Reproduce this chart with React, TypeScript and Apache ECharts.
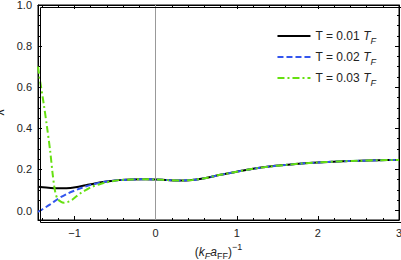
import React, { useEffect, useRef } from "react";
import * as echarts from "echarts";

// Shared tail (all three temperatures coincide here)
const tailX = [-0.45, -0.3, -0.15, 0, 0.15, 0.3, 0.45, 0.6, 0.8, 1.0, 1.2, 1.4, 1.6, 1.8, 2.0, 2.25, 2.5, 2.75, 3.0];
const tailY = [0.148, 0.151, 0.152, 0.151, 0.148, 0.146, 0.149, 0.157, 0.174, 0.189, 0.203, 0.214, 0.222, 0.229, 0.234, 0.239, 0.242, 0.245, 0.246];

// T = 0.01 T_F, low-x part
const t1X = [-1.45, -1.35, -1.25, -1.15, -1.05, -0.95, -0.85, -0.75, -0.65, -0.55];
const t1Y = [0.116, 0.112, 0.109, 0.108, 0.11, 0.116, 0.124, 0.132, 0.139, 0.144];

// T = 0.02 T_F, low-x part
const t2X = [-1.45, -1.4, -1.3, -1.2, -1.1, -1.0, -0.9, -0.8, -0.7, -0.6];
const t2Y = [-0.006, 0.005, 0.03, 0.058, 0.08, 0.097, 0.112, 0.125, 0.134, 0.141];

// T = 0.03 T_F, low-x part
const t3X = [-1.45, -1.42, -1.38, -1.34, -1.3, -1.27, -1.24, -1.21, -1.17, -1.13, -1.08, -1.03, -0.98, -0.92, -0.85, -0.78, -0.7, -0.62, -0.55];
const t3Y = [0.7, 0.62, 0.52, 0.41, 0.29, 0.18, 0.095, 0.057, 0.043, 0.038, 0.042, 0.052, 0.068, 0.086, 0.102, 0.116, 0.127, 0.136, 0.141];

const seriesNames = ["T = 0.01", "T = 0.02", "T = 0.03"];

const xMajor = [-1, 0, 1, 2, 3];
const xMinor = [-1.4, -1.2, -0.8, -0.6, -0.4, -0.2, 0.2, 0.4, 0.6, 0.8, 1.2, 1.4, 1.6, 1.8, 2.2, 2.4, 2.6, 2.8];
const yMajor = [0, 0.2, 0.4, 0.6, 0.8, 1.0];
const yMinor = [0.05, 0.1, 0.15, 0.25, 0.3, 0.35, 0.45, 0.5, 0.55, 0.65, 0.7, 0.75, 0.85, 0.9, 0.95];

const X_MIN = -1.45;
const X_MAX = 3;
const Y_MIN = -0.046;
const Y_MAX = 1.0;

const zip = (xs: number[], ys: number[]) => xs.map((x, i) => [x, ys[i]]);

export default function App() {
  const ref = useRef<HTMLDivElement>(null);
  useEffect(() => {
    if (!ref.current) return;
    const chart = echarts.init(ref.current, null, { renderer: "svg" });
    const font = "Liberation Sans";
    const frameColor = "#000";
    const labelColor = "#222";

    const mkX = (pos: "bottom" | "top", major: boolean, withLabels: boolean) => ({
      type: "value",
      min: X_MIN,
      max: X_MAX,
      position: pos,
      axisLine: { show: major, onZero: false, lineStyle: { color: frameColor, width: 1 } },
      axisTick: {
        show: true,
        inside: true,
        length: major ? 4 : 2,
        customValues: major ? xMajor : xMinor,
        lineStyle: { color: frameColor, width: 1 },
      },
      axisLabel: {
        show: withLabels,
        customValues: xMajor,
        color: labelColor,
        fontFamily: font,
        fontSize: 11,
        margin: 7,
        formatter: (v: number) => (v < 0 ? "\u2212" + Math.abs(v) : String(v)),
      },
      splitLine: { show: false },
      name: withLabels ? "({i|k}{si|F}{i|a}{s|FF}){p|\u22121}" : "",
      nameLocation: "middle",
      nameGap: 18,
      nameTextStyle: {
        fontFamily: font,
        fontSize: 12,
        color: labelColor,
        lineHeight: 18,
        rich: {
          i: { fontStyle: "italic", fontFamily: font, fontSize: 12, color: labelColor, lineHeight: 18 },
          si: { fontStyle: "italic", fontFamily: font, fontSize: 9, color: labelColor, verticalAlign: "bottom", lineHeight: 10 },
          s: { fontFamily: font, fontSize: 9, color: labelColor, verticalAlign: "bottom", lineHeight: 10 },
          p: { fontFamily: font, fontSize: 9, color: labelColor, verticalAlign: "top", lineHeight: 10 },
        },
      },
    });

    const mkY = (pos: "left" | "right", major: boolean, withLabels: boolean) => ({
      type: "value",
      min: Y_MIN,
      max: Y_MAX,
      position: pos,
      axisLine: { show: major, onZero: false, lineStyle: { color: frameColor, width: 1 } },
      axisTick: {
        show: true,
        inside: true,
        length: major ? 4 : 2,
        customValues: major ? yMajor : yMinor,
        lineStyle: { color: frameColor, width: 1 },
      },
      axisLabel: {
        show: withLabels,
        customValues: yMajor,
        color: labelColor,
        fontFamily: font,
        fontSize: 11,
        margin: 6,
        formatter: (v: number) => v.toFixed(1),
      },
      splitLine: { show: false },
      name: withLabels ? "\u03bb" : "",
      nameLocation: "middle",
      nameGap: 21,
      nameRotate: 90,
      nameTextStyle: { fontFamily: font, fontSize: 12, color: labelColor },
    });

    const rich = {
      n: { fontFamily: font, fontSize: 12, color: labelColor, lineHeight: 18 },
      i: { fontFamily: font, fontSize: 12, fontStyle: "italic", color: labelColor, lineHeight: 18 },
      s: { fontFamily: font, fontSize: 9, fontStyle: "italic", color: labelColor, verticalAlign: "bottom", lineHeight: 10 },
    };

    chart.setOption({
      animation: false,
      grid: {
        left: 38,
        right: 2,
        top: 5,
        bottom: 40,
        containLabel: false,
        outerBoundsMode: "none",
        show: true,
        borderColor: frameColor,
        borderWidth: 1,
      },
      legend: {
        orient: "vertical",
        right: 20,
        top: 25,
        itemWidth: 33,
        itemHeight: 12,
        itemGap: 6,
        data: seriesNames,
        itemStyle: { opacity: 0 },
        formatter: (name: string) => `{n|${name} }{i|T}{s|F}`,
        textStyle: { rich },
      },
      xAxis: [mkX("bottom", true, true), mkX("top", true, false), mkX("bottom", false, false), mkX("top", false, false)],
      yAxis: [mkY("left", true, true), mkY("right", true, false), mkY("left", false, false), mkY("right", false, false)],
      graphic: [
        {
          type: "rect",
          left: 38,
          top: 5,
          shape: { width: 361, height: 215 },
          style: { fill: "none", stroke: frameColor, lineWidth: 1 },
          silent: true,
          z: 100,
        },
      ],
      series: [
        {
          name: seriesNames[0],
          type: "line",
          xAxisIndex: 0,
          yAxisIndex: 0,
          symbol: "none",
          smooth: 0.3,
          z: 3,
          lineStyle: { color: "#000000", width: 2, type: "solid" },
          itemStyle: { color: "#000000" },
          data: zip(t1X.concat(tailX), t1Y.concat(tailY)),
          markLine: {
            silent: true,
            symbol: "none",
            label: { show: false },
            lineStyle: { color: "#999", width: 1, type: "solid" },
            data: [{ xAxis: 0 }],
          },
        },
        {
          name: seriesNames[1],
          type: "line",
          xAxisIndex: 0,
          yAxisIndex: 0,
          symbol: "none",
          smooth: 0.3,
          z: 4,
          lineStyle: { color: "#3355ee", width: 2, type: [6, 3] },
          itemStyle: { color: "#3355ee" },
          data: zip(t2X.concat(tailX), t2Y.concat(tailY)),
        },
        {
          name: seriesNames[2],
          type: "line",
          xAxisIndex: 0,
          yAxisIndex: 0,
          symbol: "none",
          smooth: 0.3,
          z: 5,
          lineStyle: { color: "#66e010", width: 2, type: [7, 3, 2, 3] },
          itemStyle: { color: "#66e010" },
          data: zip(t3X.concat(tailX), t3Y.concat(tailY)),
        },
      ],
    });

    return () => chart.dispose();
  }, []);
  return <div ref={ref} style={{ position: "absolute", left: 0, top: 0, width: 401, height: 260 }} />;
}
